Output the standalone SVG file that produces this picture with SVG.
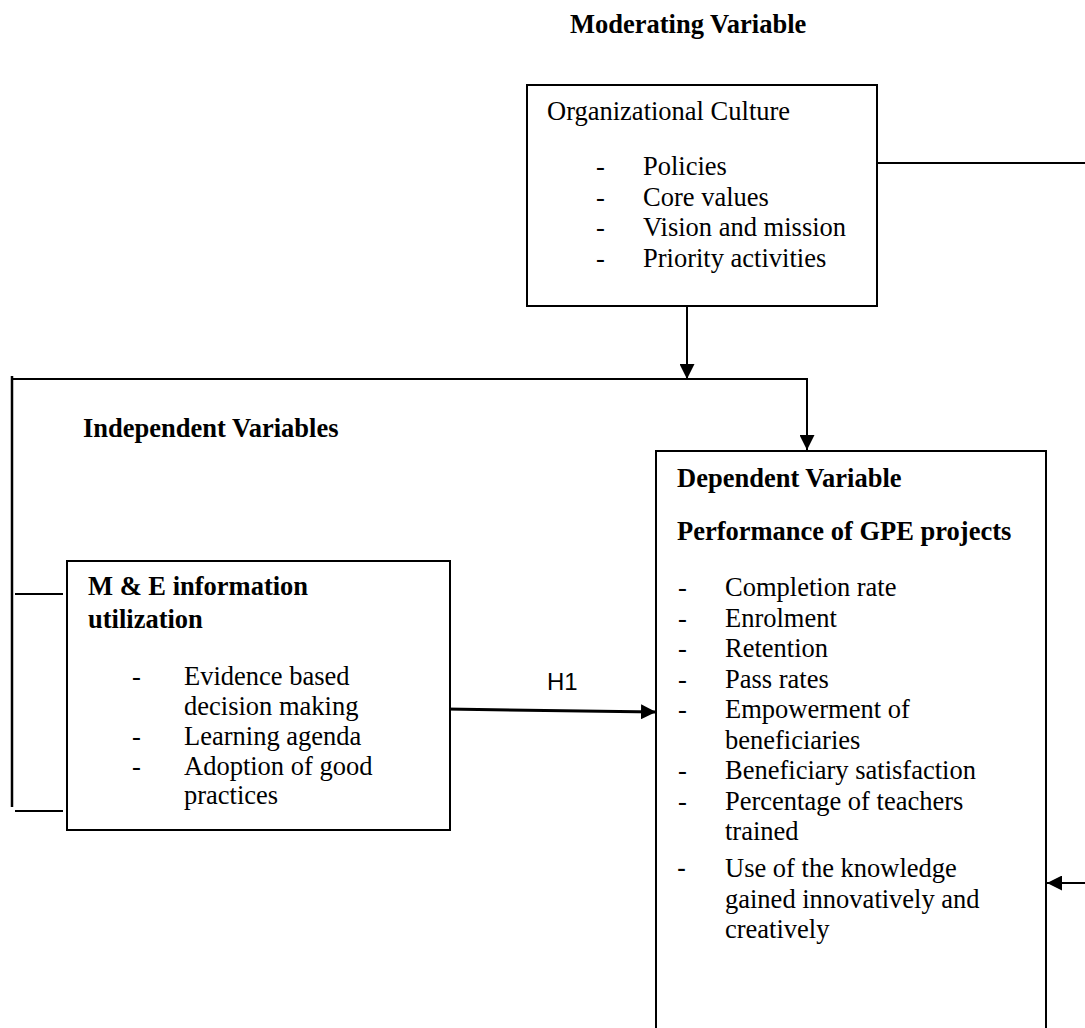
<svg xmlns="http://www.w3.org/2000/svg" width="1085" height="1028" viewBox="0 0 1085 1028">
<style>
text{font-family:"Liberation Serif","Times New Roman",serif;font-size:26.5px;fill:#000}
.b{font-weight:bold}
.box{fill:#fff;stroke:#000;stroke-width:2}
.ln{fill:none;stroke:#000;stroke-width:2}
.h1{font-family:"Liberation Sans",Arial,sans-serif;font-size:24px}
</style>
<defs>
<marker id="ah" markerWidth="15" markerHeight="15" refX="15" refY="7.5" orient="auto" markerUnits="userSpaceOnUse">
<path d="M0,0 L15,7.5 L0,15 Z" fill="#000"/>
</marker>
</defs>
<rect width="1085" height="1028" fill="#fff"/>
<text class="b" x="570" y="33">Moderating Variable</text>
<text class="b" x="83" y="437">Independent Variables</text>

<g id="connectors">
<line class="ln" x1="877" y1="163" x2="1085" y2="163"/>
<line class="ln" x1="687" y1="306" x2="687" y2="379" marker-end="url(#ah)"/>
<polyline class="ln" points="12,379 807,379 807,450" marker-end="url(#ah)"/>
<line x1="12" y1="376" x2="12" y2="807" stroke="#000" stroke-width="2.5"/>
<line class="ln" x1="15" y1="594" x2="63" y2="594"/>
<line class="ln" x1="15" y1="811" x2="63" y2="811"/>
<line x1="446" y1="709" x2="656" y2="712" stroke="#000" stroke-width="3" marker-end="url(#ah)"/>
<text class="h1" x="547" y="690">H1</text>
<line class="ln" x1="1085" y1="883" x2="1047" y2="883" marker-end="url(#ah)"/>
</g>

<g id="org-culture">
<rect class="box" x="527" y="85" width="350" height="221"/>
<text x="547" y="120">Organizational Culture</text>
<text x="596" y="175">-</text><text x="643" y="175">Policies</text>
<text x="596" y="205.5">-</text><text x="643" y="205.5">Core values</text>
<text x="596" y="236">-</text><text x="643" y="236">Vision and mission</text>
<text x="596" y="266.5">-</text><text x="643" y="266.5">Priority activities</text>
</g>

<g id="me-info">
<rect class="box" x="67" y="561" width="383" height="269"/>
<text class="b" x="88" y="595">M &amp; E information</text>
<text class="b" x="88" y="628">utilization</text>
<text x="132" y="685">-</text><text x="184" y="685">Evidence based</text>
<text x="184" y="715">decision making</text>
<text x="132" y="745">-</text><text x="184" y="745">Learning agenda</text>
<text x="132" y="775">-</text><text x="184" y="775">Adoption of good</text>
<text x="184" y="804">practices</text>
</g>

<g id="dependent">
<path class="ln" d="M656,1028 L656,451 L1046,451 L1046,1028"/>
<text class="b" x="677" y="487">Dependent Variable</text>
<text class="b" x="677" y="540">Performance of GPE projects</text>
<text x="678" y="595.5">-</text><text x="725" y="595.5">Completion rate</text>
<text x="678" y="626.5">-</text><text x="725" y="626.5">Enrolment</text>
<text x="678" y="657">-</text><text x="725" y="657">Retention</text>
<text x="678" y="687.5">-</text><text x="725" y="687.5">Pass rates</text>
<text x="678" y="718">-</text><text x="725" y="718">Empowerment of</text>
<text x="725" y="748.5">beneficiaries</text>
<text x="678" y="779">-</text><text x="725" y="779">Beneficiary satisfaction</text>
<text x="678" y="809.5">-</text><text x="725" y="809.5">Percentage of teachers</text>
<text x="725" y="840">trained</text>
<text x="677" y="877" style="font-family:'Liberation Sans',Arial,sans-serif;font-size:27px">-</text><text x="725" y="877">Use of the knowledge</text>
<text x="725" y="907.5">gained innovatively and</text>
<text x="725" y="938">creatively</text>
</g>
</svg>
